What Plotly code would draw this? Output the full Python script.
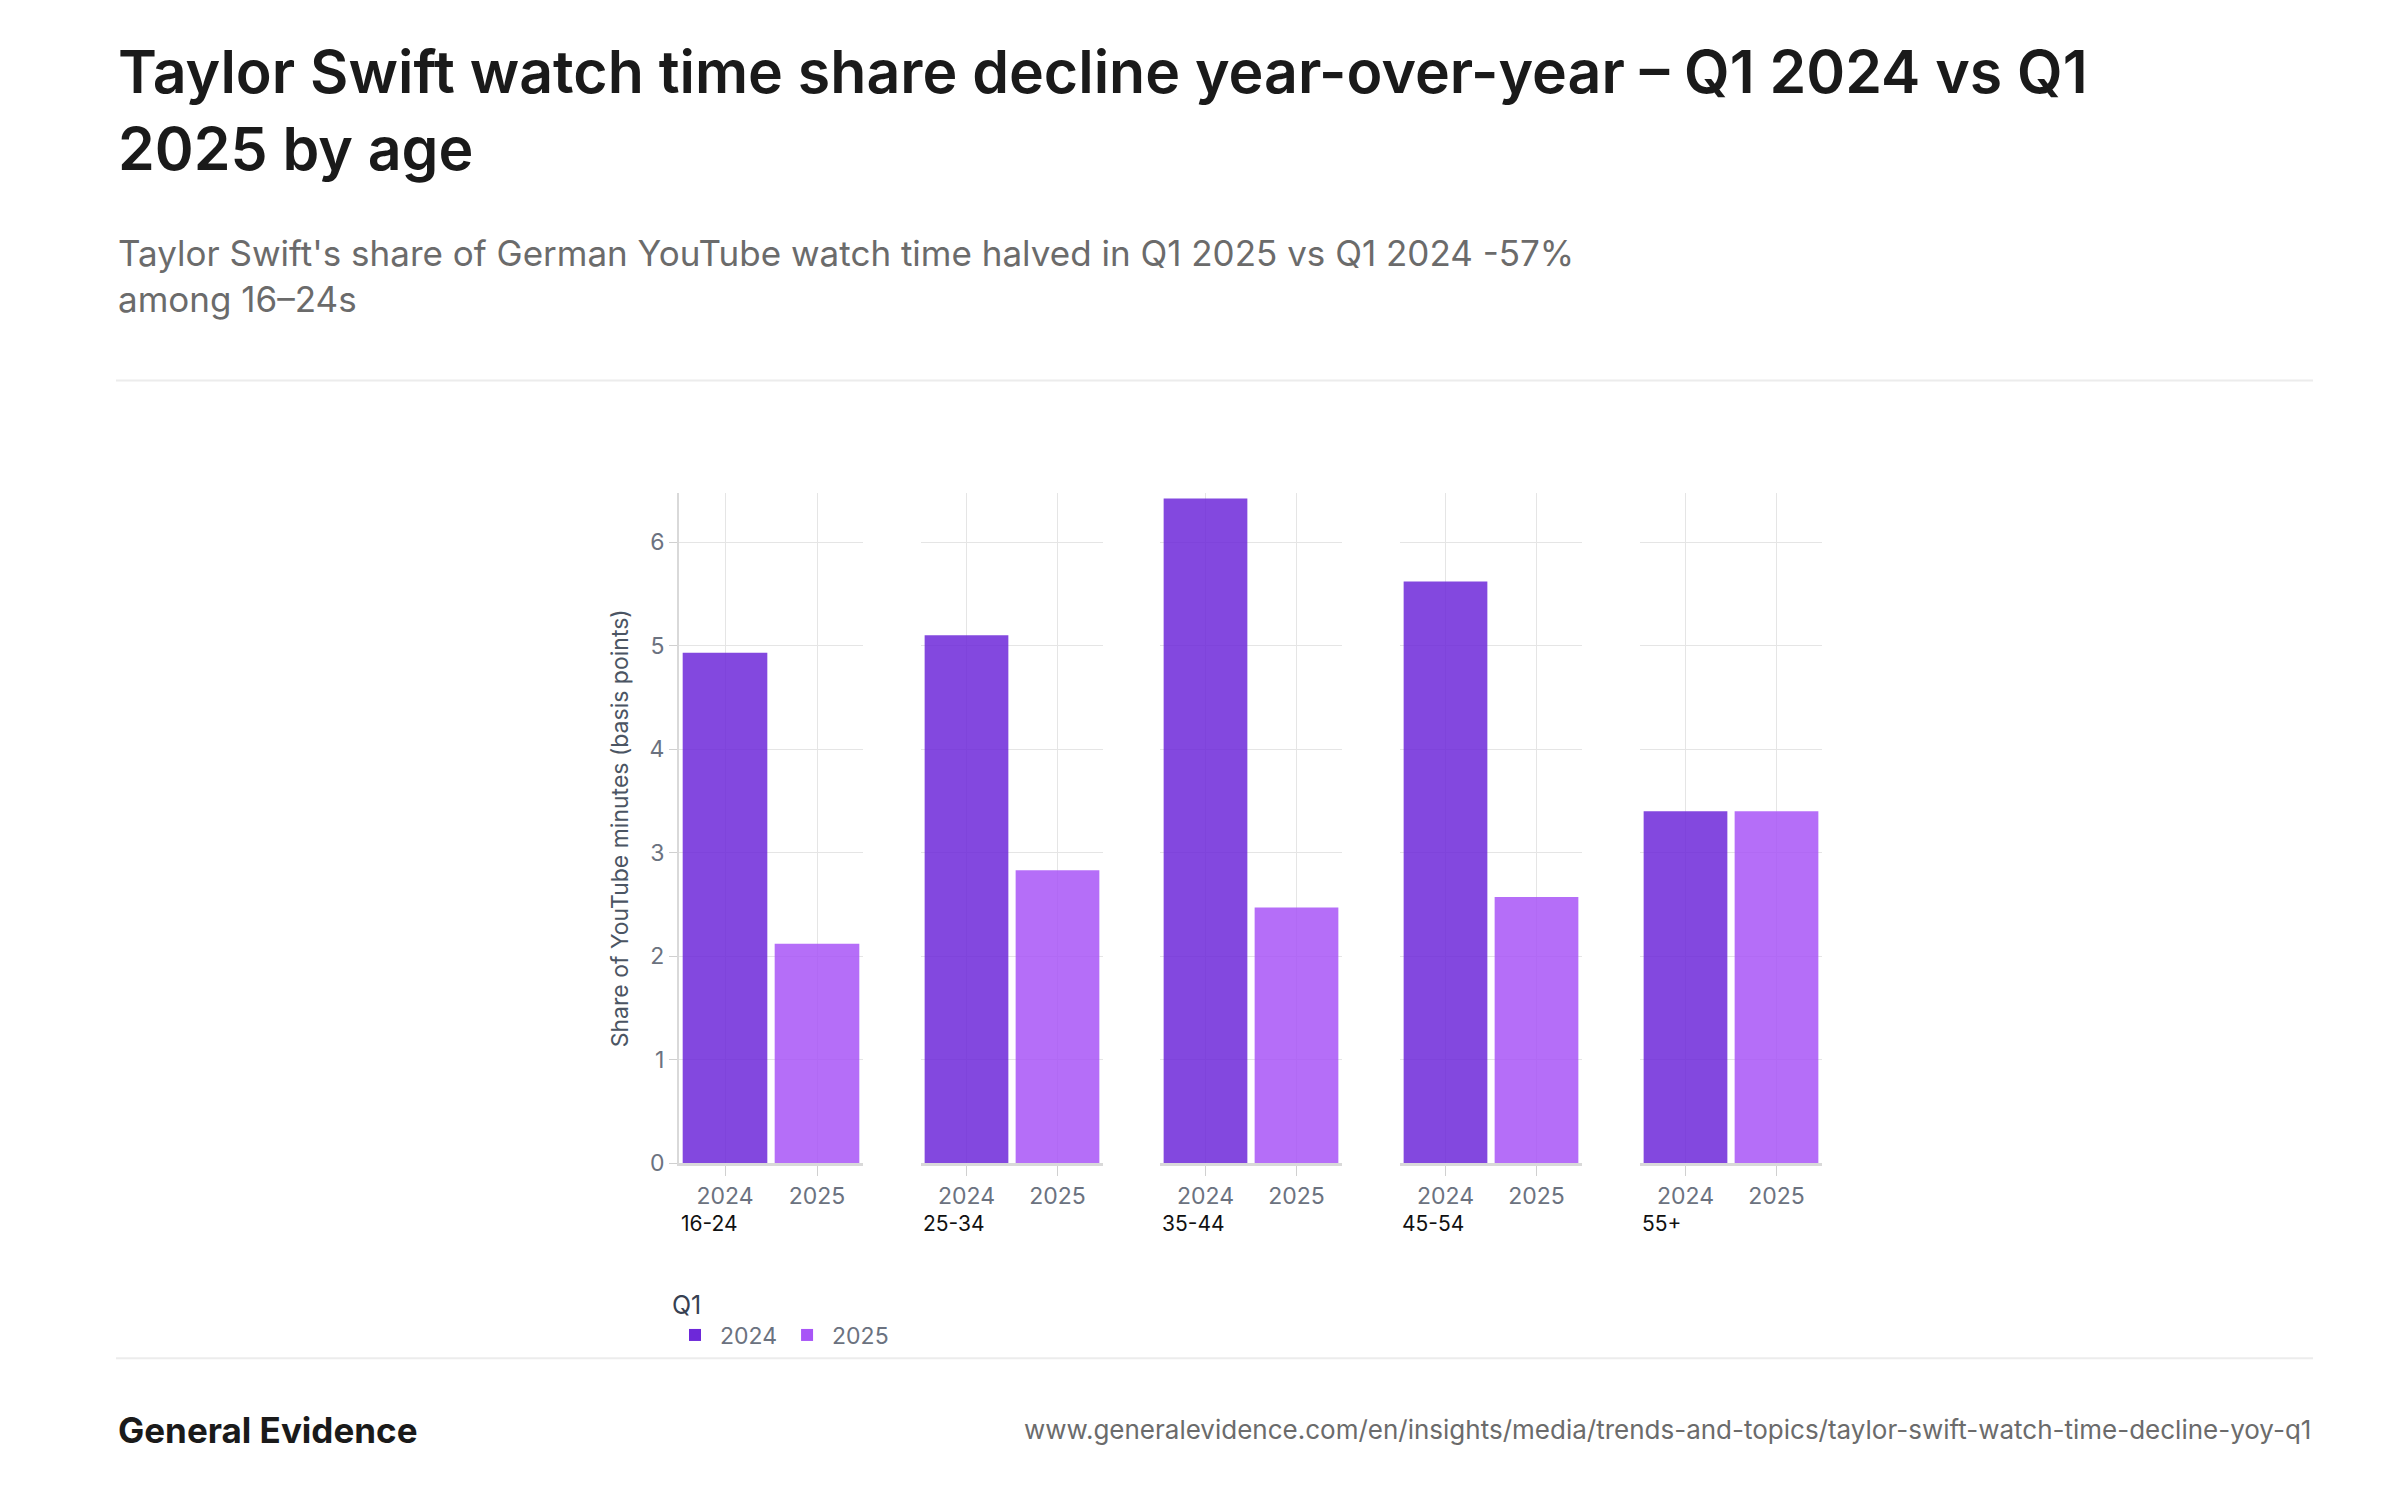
import plotly.graph_objects as go

ages = ["16-24", "25-34", "35-44", "45-54", "55+"]
years = ["2024", "2025"]
q1_2024 = [4.93, 5.10, 6.42, 5.62, 3.40]
q1_2025 = [2.12, 2.83, 2.47, 2.57, 3.40]
colors = {"2024": "#6d28d9", "2025": "#a855f7"}

W, H = 2400, 1500
FONT = "Inter, DejaVu Sans, sans-serif"
# facet left/right edges in pixels
facets = [(671, 855), (913, 1095), (1152, 1334), (1392, 1574), (1632, 1814)]
ydom = [1 - 1166 / H, 1 - 490 / H]

fig = go.Figure()
for i, age in enumerate(ages):
    n = "" if i == 0 else str(i + 1)
    for yr, vals in (("2024", q1_2024), ("2025", q1_2025)):
        fig.add_bar(x=[yr], y=[vals[i]], name=yr, legendgroup=yr, showlegend=(i == 0),
                    marker=dict(color=colors[yr], opacity=0.85, line_width=0),
                    xaxis="x" + n, yaxis="y" + n)
    l, r = facets[i]
    fig.layout["xaxis" + n] = dict(domain=[l / W, r / W], anchor="y" + n,
                                   categoryorder="array", categoryarray=years,
                                   showgrid=True, gridcolor="#e5e5e5", showline=True,
                                   linecolor="#d9d9d9", linewidth=3, ticks="outside",
                                   tickcolor="#d0d0d0", ticklen=10,
                                   tickfont=dict(size=23, color="#6b7280"))
    ya = dict(domain=ydom, anchor="x" + n, range=[0, 6.47], showgrid=True,
              gridcolor="#e5e5e5", zeroline=False, dtick=1)
    if i == 0:
        ya.update(showline=True, linecolor="#d9d9d9", linewidth=2, ticks="outside",
                  tickcolor="#d0d0d0", ticklen=8, tickfont=dict(size=23, color="#6b7280"),
                  title=dict(text="Share of YouTube minutes (basis points)",
                             font=dict(size=23, color="#4b5563"), standoff=14))
    else:
        ya.update(showticklabels=False, matches="y")
    fig.layout["yaxis" + n] = ya
    fig.add_annotation(text=age, x=l / W, y=1 - 1212 / H, xref="paper", yref="paper",
                       xanchor="left", yanchor="top", showarrow=False,
                       font=dict(size=21, color="#111111"))

fig.add_annotation(text="Taylor Swift watch time share decline year-over-year – Q1 2024 vs Q1<br>2025 by age",
                   x=108 / W, y=1 - 26 / H, xref="paper", yref="paper", xanchor="left",
                   yanchor="top", align="left", showarrow=False,
                   font=dict(size=59, color="#1a1a1a", family=FONT, weight=600))
fig.add_annotation(text="Taylor Swift's share of German YouTube watch time halved in Q1 2025 vs Q1 2024 -57%<br>among 16–24s",
                   x=108 / W, y=1 - 224 / H, xref="paper", yref="paper", xanchor="left",
                   yanchor="top", align="left", showarrow=False,
                   font=dict(size=35, color="#6b6b6b"))
fig.add_annotation(text="<b>General Evidence</b>", x=108 / W, y=1 - 1435 / H, xref="paper",
                   yref="paper", xanchor="left", yanchor="middle", showarrow=False,
                   font=dict(size=35, color="#1a1a1a"))
fig.add_annotation(text="www.generalevidence.com/en/insights/media/trends-and-topics/taylor-swift-watch-time-decline-yoy-q1",
                   x=2305 / W, y=1 - 1435 / H, xref="paper", yref="paper", xanchor="right",
                   yanchor="middle", showarrow=False, font=dict(size=26, color="#6b6b6b"))
for py in (376, 1363):
    fig.add_shape(type="line", xref="paper", yref="paper", x0=108 / W, x1=2305 / W,
                  y0=1 - py / H, y1=1 - py / H, line=dict(color="#ececec", width=2))

fig.update_layout(width=W, height=H, margin=dict(l=0, r=0, t=0, b=0),
                  plot_bgcolor="white", paper_bgcolor="white", bargap=0.08,
                  font=dict(family=FONT),
                  legend=dict(orientation="h", x=662 / W, y=1 - 1285 / H, xanchor="left",
                              yanchor="top", title=dict(text="Q1", side="top",
                                                        font=dict(size=25, color="#374151")),
                              font=dict(size=23, color="#6b7280"), itemwidth=40,
                              traceorder="normal"))
fig.write_html("out.html")
